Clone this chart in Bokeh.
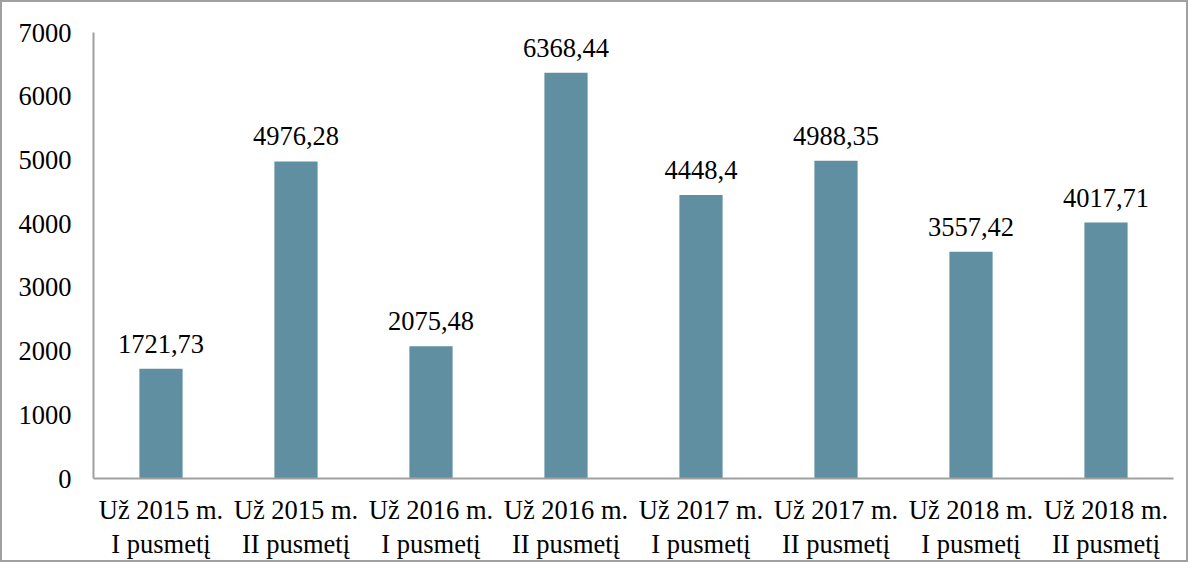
from bokeh.plotting import figure
from bokeh.models import ColumnDataSource, FixedTicker, Range1d, FactorRange
from bokeh.core.properties import value
from bokeh.embed import file_html
from bokeh.resources import INLINE

categories = ["Už 2015 m.\nI pusmetį", "Už 2015 m.\nII pusmetį",
              "Už 2016 m.\nI pusmetį", "Už 2016 m.\nII pusmetį",
              "Už 2017 m.\nI pusmetį", "Už 2017 m.\nII pusmetį",
              "Už 2018 m.\nI pusmetį", "Už 2018 m.\nII pusmetį"]
values = [1721.73, 4976.28, 2075.48, 6368.44, 4448.4, 4988.35, 3557.42, 4017.71]
labels = [str(v).replace(".", ",") for v in values]
y_ticks = [0, 1000, 2000, 3000, 4000, 5000, 6000, 7000]

FONT = "Liberation Serif"
AXIS_COLOR = "#A0A0A0"
BAR_COLOR = "#5F8FA0"

src = ColumnDataSource(dict(cat=categories, val=values, lab=labels))

p = figure(x_range=FactorRange(*categories), y_range=Range1d(0, 7000),
           width=1188, height=562, output_backend="svg", toolbar_location=None,
           min_border_left=91, min_border_right=17, min_border_top=30, min_border_bottom=86)
p.styles = {"border": "2px solid #A0A0A0"}
p.outline_line_color = None
p.xgrid.grid_line_color = None
p.ygrid.grid_line_color = None

p.vbar(x="cat", top="val", width=0.32, source=src, fill_color=BAR_COLOR, line_color=None)
p.text(x="cat", y="val", text="lab", source=src, text_align="center", text_baseline="bottom",
       y_offset=-16, text_font=value(FONT), text_font_size="26.5px", text_color="#000000")

p.yaxis.ticker = FixedTicker(ticks=y_ticks)
for ax in (p.xaxis, p.yaxis):
    ax.axis_line_color = AXIS_COLOR
    ax.axis_line_width = 2
    ax.major_tick_line_color = None
    ax.minor_tick_line_color = None
    ax.major_label_text_font = FONT
    ax.major_label_text_font_size = "26.5px"
    ax.major_label_text_color = "#000000"
p.yaxis.major_label_standoff = 16
p.xaxis.major_label_standoff = 10
p.xaxis.major_label_text_line_height = 1.15

open("out.html", "w").write(file_html(p, INLINE))
